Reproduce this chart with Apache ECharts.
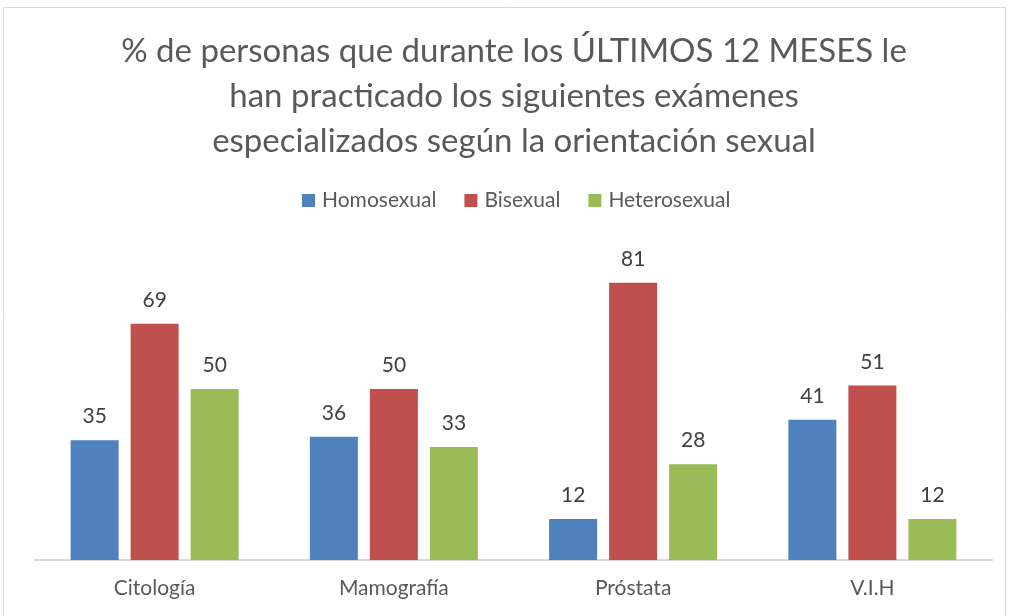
<!DOCTYPE html>
<html><head><meta charset="utf-8">
<script src="https://cdn.jsdelivr.net/npm/echarts@6/dist/echarts.min.js"></script>
<style>html,body{margin:0;padding:0;background:#fff}#c{width:1009px;height:616px}</style>
</head><body><div id="c"></div>
<script>
const categories = ['Citología', 'Mamografía', 'Próstata', 'V.I.H'];
const homosexual = [35, 36, 12, 41];
const bisexual = [69, 50, 81, 51];
const heterosexual = [50, 33, 28, 12];
const seriesNames = ['Homosexual', 'Bisexual', 'Heterosexual'];
const titleText = '% de personas que durante los ÚLTIMOS 12 MESES le\nhan practicado los siguientes exámenes\nespecializados según la orientación sexual';

const FONT = 'Lato';
const chart = echarts.init(document.getElementById('c'));
const colors = ['#4f81bd', '#c0504d', '#9bbb59'];
const mk = (name, data, i) => ({
  name, type: 'bar', data, barWidth: 48, barGap: '25%',
  itemStyle: { color: colors[i] },
  label: { show: true, position: 'top', distance: 13, color: '#404040', fontSize: 21, fontFamily: FONT }
});
chart.setOption({
  animation: false,
  graphic: [
    { type: 'rect', shape: { x: 3.5, y: 7.5, width: 1002, height: 620 }, style: { fill: 'none', stroke: '#d9d9d9', lineWidth: 1 } },
    { type: 'text', x: 514, y: 29, style: { text: titleText, font: '33px Lato', fill: '#595959', align: 'center', verticalAlign: 'top', lineHeight: 45 } }
  ],
  legend: {
    top: 185, left: 297, itemWidth: 13, itemHeight: 13, itemGap: 28,
    icon: 'rect',
    textStyle: { fontFamily: FONT, fontSize: 21, color: '#595959', padding: [0, 0, 0, 2] },
    data: seriesNames
  },
  grid: { left: 35, right: 17, top: 252, bottom: 56, containLabel: false },
  xAxis: {
    type: 'category', data: categories,
    axisLine: { lineStyle: { color: '#d9d9d9', width: 2 } },
    axisTick: { show: false },
    axisLabel: { fontFamily: FONT, fontSize: 21, color: '#595959', margin: 18 }
  },
  yAxis: { type: 'value', min: 0, max: 90, show: false, splitLine: { show: false } },
  series: [mk(seriesNames[0], homosexual, 0), mk(seriesNames[1], bisexual, 1), mk(seriesNames[2], heterosexual, 2)]
});
</script></body></html>
